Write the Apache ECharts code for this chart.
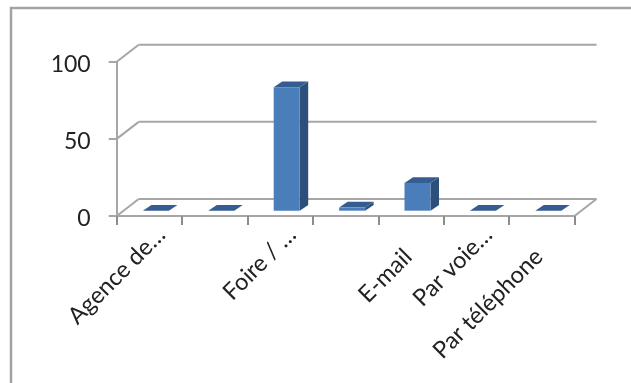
<!DOCTYPE html>
<html>
<head>
<meta charset="utf-8">
<style>
  html, body { margin: 0; padding: 0; background: #fff; }
  #chart { width: 631px; height: 383px; }
</style>
<script src="https://cdn.jsdelivr.net/npm/echarts@6/dist/echarts.min.js"></script>
</head>
<body>
<div id="chart"></div>
<script>
// Contact channels, in percent of responses
const categories = ['Agence de…', '', 'Foire / …', '', 'E-mail', 'Par voie…', 'Par téléphone'];
const shares = [0, 0, 80, 2, 18, 0, 0];
const valueTicks = [0, 50, 100];

const chart = echarts.init(document.getElementById('chart'));

// Oblique projection of the floor depth, in pixels
const DEPTH_X = 22;
const DEPTH_Y = -17;
const GRID_LINE = '#a6a6a6';
const lineStyle = { stroke: GRID_LINE, lineWidth: 2, fill: null };

// Truncated labels sit closer to the axis than the full-length ones
const truncatedPadding = [5, 0, 0, 0];
const fullPadding = [10, 26, 0, 0];

function segment(x1, y1, x2, y2) {
  return { type: 'line', shape: { x1, y1, x2, y2 }, style: lineStyle, silent: true };
}

// Back wall lines, side wall diagonals and the right edge of the floor
function renderWalls(params, api) {
  const children = [];
  const band = api.size([1, 0])[0];
  const left = api.coord([0, 0])[0] - band / 2;
  const right = api.coord([categories.length - 1, 0])[0] + band / 2;
  valueTicks.forEach(v => {
    const y = api.coord([0, v])[1];
    children.push(segment(left, y, left + DEPTH_X, y + DEPTH_Y));
    children.push(segment(left + DEPTH_X, y + DEPTH_Y, right + DEPTH_X, y + DEPTH_Y));
  });
  const y0 = api.coord([0, 0])[1];
  children.push(segment(right, y0, right + DEPTH_X, y0 + DEPTH_Y));
  return { type: 'group', children };
}

// A box standing in the middle of the floor depth
function renderBox(params, api) {
  const [cx, y0] = api.coord([api.value(0), 0]);
  const yTop = api.coord([api.value(0), api.value(1)])[1];
  const w = 26, dx = 8.5, dy = -5.8, offX = 6.5 - 13, offY = -5.3;
  const x1 = cx + offX, x2 = x1 + w;
  const yb = y0 + offY, yt = yTop + offY;
  return {
    type: 'group',
    children: [
      { type: 'polygon', shape: { points: [[x2, yb], [x2 + dx, yb + dy], [x2 + dx, yt + dy], [x2, yt]] },
        style: { fill: '#2d4f7c' } },
      { type: 'polygon', shape: { points: [[x1, yt], [x1 + dx, yt + dy], [x2 + dx, yt + dy], [x2, yt]] },
        style: { fill: '#355d92' } },
      { type: 'rect', shape: { x: x1, y: yt, width: w, height: yb - yt },
        style: { fill: '#4a7ebb' } }
    ]
  };
}

const axisData = categories.map(name => ({
  value: name,
  textStyle: {
    verticalAlign: 'top',
    padding: name.endsWith('…') ? truncatedPadding : fullPadding
  }
}));

chart.setOption({
  animation: false,
  backgroundColor: '#fff',
  graphic: [{
    type: 'rect',
    shape: { x: 11, y: 8, width: 640, height: 400 },
    style: { fill: null, stroke: '#a3a3a3', lineWidth: 2.5 },
    silent: true,
    z: 100
  }],
  grid: { left: 116.7, right: 56.5, top: 61.7, height: 154.3 },
  xAxis: {
    type: 'category',
    data: axisData,
    boundaryGap: true,
    axisLine: { lineStyle: { color: GRID_LINE, width: 2 } },
    axisTick: { show: true, alignWithLabel: false, length: 9, lineStyle: { color: '#8c8c8c', width: 2 } },
    axisLabel: {
      interval: 0,
      rotate: 45,
      margin: 3,
      color: '#222',
      fontFamily: 'Lato',
      fontSize: 23.5
    }
  },
  yAxis: {
    type: 'value',
    min: 0,
    max: 100,
    interval: 50,
    axisLine: { show: true, lineStyle: { color: GRID_LINE, width: 2 } },
    axisTick: { show: true, length: 8, lineStyle: { color: GRID_LINE, width: 2 } },
    splitLine: { show: false },
    axisLabel: {
      margin: 26,
      verticalAlign: 'top',
      lineHeight: 6,
      color: '#222',
      fontFamily: 'Lato',
      fontSize: 23
    }
  },
  series: [
    {
      type: 'custom',
      renderItem: renderWalls,
      data: [[0, 0]],
      silent: true,
      z: 1
    },
    {
      type: 'custom',
      renderItem: renderBox,
      encode: { x: 0, y: 1 },
      data: shares.map((v, i) => [i, v]),
      z: 2
    }
  ]
});
</script>
</body>
</html>
